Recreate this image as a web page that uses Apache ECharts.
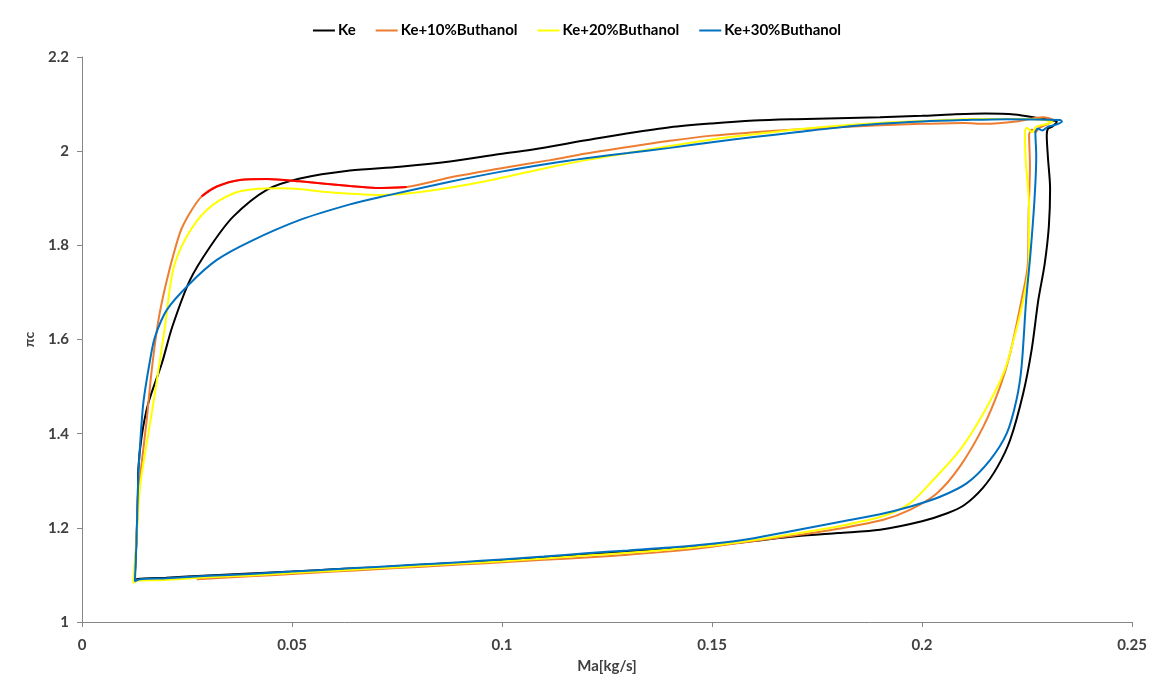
<!DOCTYPE html>
<html>
<head>
<meta charset="utf-8">
<script src="https://cdn.jsdelivr.net/npm/echarts@6/dist/echarts.min.js"></script>
<style>html,body{margin:0;padding:0;background:#fff}#c{width:1154px;height:686px}</style>
</head>
<body>
<div id="c"></div>
<script>
const seriesNames = ['Ke', 'Ke+10%Buthanol', 'Ke+20%Buthanol', 'Ke+30%Buthanol'];
const xTicks = [0, 0.05, 0.1, 0.15, 0.2, 0.25];
const yTicks = [1, 1.2, 1.4, 1.6, 1.8, 2, 2.2];

const ke = [[0.0125,1.085],[0.013,1.091],[0.02,1.094],[0.03,1.099],[0.04,1.103],[0.05,1.107],[0.06,1.112],[0.07,1.116],[0.08,1.121],[0.09,1.126],[0.1,1.131],[0.11,1.137],[0.12,1.143],[0.13,1.149],[0.14,1.155],[0.15,1.162],[0.16,1.172],[0.17,1.182],[0.18,1.189],[0.19,1.196],[0.2,1.214],[0.206,1.231],[0.21,1.248],[0.2145,1.285],[0.218,1.33],[0.221,1.387],[0.2241,1.486],[0.2261,1.578],[0.2277,1.684],[0.2292,1.760],[0.2302,1.840],[0.2305,1.920],[0.2300,1.985],[0.2297,2.035],[0.2300,2.048],[0.2310,2.052],[0.2321,2.063],[0.2305,2.066],[0.228,2.070],[0.222,2.078],[0.215,2.080],[0.207,2.078],[0.2,2.075],[0.19,2.072],[0.18,2.070],[0.17,2.068],[0.16,2.065],[0.15,2.059],[0.14,2.051],[0.13,2.038],[0.12,2.023],[0.107,2.003],[0.0995,1.994],[0.0876,1.978],[0.0757,1.967],[0.0638,1.959],[0.0519,1.942],[0.044,1.918],[0.036,1.861],[0.0305,1.797],[0.0257,1.726],[0.0215,1.627],[0.019,1.549],[0.0158,1.465],[0.0142,1.394],[0.0134,1.323],[0.0133,1.266],[0.013,1.18],[0.0125,1.085]];

const ke10 = [[0.0273,1.091],[0.04,1.097],[0.05,1.102],[0.06,1.107],[0.07,1.112],[0.08,1.117],[0.09,1.122],[0.1,1.127],[0.11,1.132],[0.12,1.137],[0.13,1.143],[0.14,1.150],[0.15,1.160],[0.16,1.172],[0.17,1.184],[0.18,1.198],[0.1908,1.217],[0.1971,1.238],[0.2035,1.273],[0.2090,1.330],[0.2146,1.415],[0.2186,1.500],[0.2210,1.571],[0.2237,1.684],[0.2252,1.760],[0.2254,1.870],[0.2257,1.970],[0.2255,2.035],[0.2262,2.046],[0.2270,2.040],[0.2280,2.050],[0.2300,2.058],[0.2312,2.066],[0.2288,2.072],[0.2225,2.063],[0.215,2.058],[0.21,2.060],[0.2,2.058],[0.19,2.055],[0.18,2.051],[0.17,2.046],[0.16,2.040],[0.15,2.033],[0.14,2.022],[0.13,2.009],[0.12,1.995],[0.1114,1.981],[0.0995,1.963],[0.0876,1.944],[0.0773,1.924],[0.07,1.922],[0.0638,1.926],[0.0519,1.936],[0.044,1.941],[0.0376,1.939],[0.0321,1.925],[0.0285,1.904],[0.0255,1.866],[0.0233,1.826],[0.0202,1.726],[0.0182,1.641],[0.0166,1.535],[0.0154,1.429],[0.0142,1.337],[0.0133,1.266],[0.013,1.18],[0.0125,1.085]];

const ke20 = [[0.0122,1.082],[0.013,1.088],[0.0193,1.089],[0.03,1.095],[0.04,1.099],[0.05,1.104],[0.06,1.109],[0.07,1.114],[0.08,1.119],[0.09,1.124],[0.1,1.129],[0.11,1.135],[0.12,1.141],[0.13,1.147],[0.14,1.154],[0.15,1.162],[0.16,1.174],[0.17,1.188],[0.18,1.203],[0.1908,1.225],[0.1971,1.252],[0.2027,1.302],[0.2090,1.365],[0.2146,1.443],[0.2194,1.528],[0.2218,1.599],[0.2241,1.684],[0.2254,1.760],[0.2255,1.880],[0.2247,1.980],[0.2245,2.040],[0.2250,2.050],[0.2262,2.040],[0.2272,2.052],[0.2290,2.056],[0.2310,2.062],[0.228,2.067],[0.22,2.069],[0.21,2.068],[0.2,2.064],[0.19,2.060],[0.18,2.054],[0.17,2.046],[0.16,2.036],[0.15,2.025],[0.14,2.011],[0.13,1.996],[0.12,1.981],[0.1114,1.966],[0.0955,1.935],[0.0797,1.912],[0.0717,1.907],[0.0598,1.912],[0.048,1.921],[0.042,1.920],[0.036,1.910],[0.0297,1.875],[0.0249,1.818],[0.0217,1.748],[0.0198,1.63],[0.0182,1.535],[0.0166,1.443],[0.0150,1.358],[0.0138,1.287],[0.013,1.18],[0.0122,1.082]];

const ke30 = [[0.0126,1.086],[0.0138,1.091],[0.02,1.093],[0.03,1.098],[0.04,1.102],[0.05,1.107],[0.06,1.112],[0.07,1.117],[0.08,1.122],[0.09,1.127],[0.1,1.133],[0.11,1.139],[0.12,1.146],[0.13,1.152],[0.14,1.158],[0.15,1.166],[0.16,1.178],[0.17,1.195],[0.18,1.212],[0.19,1.229],[0.1975,1.246],[0.2043,1.266],[0.2107,1.295],[0.2162,1.344],[0.2202,1.401],[0.2225,1.472],[0.2237,1.542],[0.2248,1.684],[0.2258,1.780],[0.2268,1.900],[0.2272,1.990],[0.2270,2.040],[0.2276,2.048],[0.2286,2.044],[0.2300,2.052],[0.2318,2.056],[0.2333,2.063],[0.2329,2.066],[0.22,2.068],[0.21,2.066],[0.2,2.063],[0.19,2.058],[0.18,2.050],[0.17,2.040],[0.16,2.030],[0.15,2.019],[0.14,2.007],[0.13,1.996],[0.12,1.985],[0.1114,1.974],[0.0995,1.956],[0.0876,1.935],[0.0717,1.904],[0.0638,1.887],[0.0519,1.854],[0.04,1.808],[0.0321,1.769],[0.0257,1.719],[0.0202,1.663],[0.0174,1.606],[0.0162,1.556],[0.0146,1.465],[0.0138,1.372],[0.0134,1.309],[0.013,1.18],[0.0126,1.086]];

// part of the Ke+10% curve drawn in red in the original (indices into ke10)
const ke10RedStart = 49, ke10RedEnd = 56;

const colors = ['#000000', '#ED7D31', '#FFFF00', '#0070C0'];
const datas = [ke, ke10, ke20, ke30];

const chart = echarts.init(document.getElementById('c'));
const series = datas.map((d, i) => ({
  name: seriesNames[i], type: 'line', data: d, showSymbol: false, symbol: 'none',
  smooth: 0.3, lineStyle: { width: 2, color: colors[i] }, itemStyle: { color: colors[i] },
  z: 2 + i, animation: false
}));
series.push({
  name: 'red', type: 'line', data: ke10.slice(ke10RedStart, ke10RedEnd + 1), symbol: 'none',
  smooth: 0.3, lineStyle: { width: 2, color: '#FF0000' }, z: 7, animation: false, silent: true
});

const font = 'Lato, "Open Sans", sans-serif';
chart.setOption({
  animation: false,
  backgroundColor: '#fff',
  legend: {
    data: seriesNames, top: 18, left: 'center', itemWidth: 22, itemHeight: 2, itemGap: 20,
    icon: 'rect',
    textStyle: { fontFamily: font, fontWeight: 'bold', fontSize: 15, color: '#000', padding: [0, 0, 0, -2] }
  },
  grid: { left: 82, right: 22, top: 57, bottom: 64 },
  xAxis: {
    type: 'value', min: 0, max: 0.25, interval: 0.05,
    name: 'Ma[kg/s]', nameLocation: 'middle', nameGap: 37,
    nameTextStyle: { fontFamily: font, fontWeight: 'bold', fontSize: 15, color: '#404040' },
    axisLine: { show: true, lineStyle: { color: '#868686', width: 1 } },
    axisTick: { show: true, length: 5, lineStyle: { color: '#868686' } },
    splitLine: { show: false },
    axisLabel: { fontFamily: font, fontWeight: 'bold', fontSize: 15, color: '#404040', margin: 16,
      formatter: v => String(+v.toFixed(3)) }
  },
  yAxis: {
    type: 'value', min: 1, max: 2.2, interval: 0.2,
    name: 'πc', nameLocation: 'middle', nameGap: 46, nameRotate: 90,
    nameTextStyle: { fontFamily: font, fontWeight: 'bold', fontSize: 14, color: '#404040' },
    axisLine: { show: true, lineStyle: { color: '#868686', width: 1 } },
    axisTick: { show: true, length: 5, lineStyle: { color: '#868686' } },
    splitLine: { show: false },
    axisLabel: { fontFamily: font, fontWeight: 'bold', fontSize: 15, color: '#404040', margin: 13,
      formatter: v => String(+v.toFixed(2)) }
  },
  series: series
});
</script>
</body>
</html>
